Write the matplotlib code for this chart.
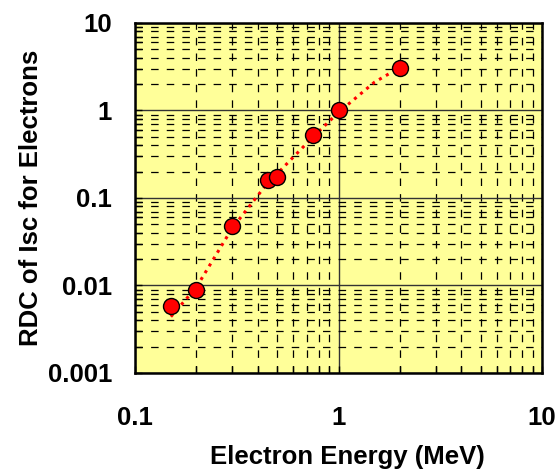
import matplotlib.pyplot as plt
from matplotlib.ticker import LogLocator, NullFormatter, FixedLocator, FixedFormatter

# measured points
energy = [0.15, 0.2, 0.3, 0.45, 0.5, 0.75, 1.0, 2.0]
rdc = [0.0058, 0.0089, 0.048, 0.16, 0.174, 0.52, 1.0, 3.06]

# fitted curve (dotted)
fit_energy = [0.15, 0.2, 0.3, 0.45, 0.5, 0.75, 1.0, 1.5, 2.0]
fit_rdc = [0.0044, 0.0095, 0.045, 0.15, 0.19, 0.5, 0.95, 2.1, 3.1]

xticks = [0.1, 1, 10]
xlabels = ['0.1', '1', '10']
yticks = [0.001, 0.01, 0.1, 1, 10]
ylabels = ['0.001', '0.01', '0.1', '1', '10']

plt.rcParams['font.family'] = ['Liberation Sans', 'DejaVu Sans']
plt.rcParams['font.weight'] = 'bold'

fig = plt.figure(figsize=(5.58, 4.69), dpi=100)
ax = fig.add_axes([135 / 558, 1 - 373 / 469, 407 / 558, 350 / 469])
ax.set_facecolor('#ffff99')

ax.set_xscale('log')
ax.set_yscale('log')
ax.set_xlim(0.1, 10)
ax.set_ylim(0.001, 10)

ax.xaxis.set_major_locator(FixedLocator(xticks))
ax.xaxis.set_major_formatter(FixedFormatter(xlabels))
ax.yaxis.set_major_locator(FixedLocator(yticks))
ax.yaxis.set_major_formatter(FixedFormatter(ylabels))
ax.xaxis.set_minor_locator(LogLocator(base=10, subs=range(2, 10)))
ax.yaxis.set_minor_locator(LogLocator(base=10, subs=range(2, 10)))
ax.xaxis.set_minor_formatter(NullFormatter())
ax.yaxis.set_minor_formatter(NullFormatter())

ax.grid(which='major', color='#333333', linewidth=1.0, linestyle='-')
ax.grid(which='minor', color='black', linewidth=0.9, linestyle=(0, (6, 6.5)))
ax.set_axisbelow(True)

ax.tick_params(which='both', direction='in', length=5, width=1)
ax.tick_params(axis='x', which='major', labelsize=18.5, pad=24)
ax.tick_params(axis='y', which='major', labelsize=18.5, pad=16.5)
for s in ax.spines.values():
    s.set_linewidth(1.8)

ax.plot(fit_energy, fit_rdc, color='red', linestyle=(0, (1, 1.6)), linewidth=2.2, zorder=3)
ax.plot(energy, rdc, 'o', markersize=11.5, markerfacecolor='red',
        markeredgecolor='black', markeredgewidth=1.0, zorder=4)

ax.set_xlabel('Electron Energy (MeV)', fontsize=18.5, fontweight='bold', labelpad=10.5)
ax.xaxis.label.set_x(0.523)
ax.set_ylabel('RDC of Isc for Electrons', fontsize=18.5, fontweight='bold', labelpad=3.5)

fig.savefig('out.png', dpi=100)
